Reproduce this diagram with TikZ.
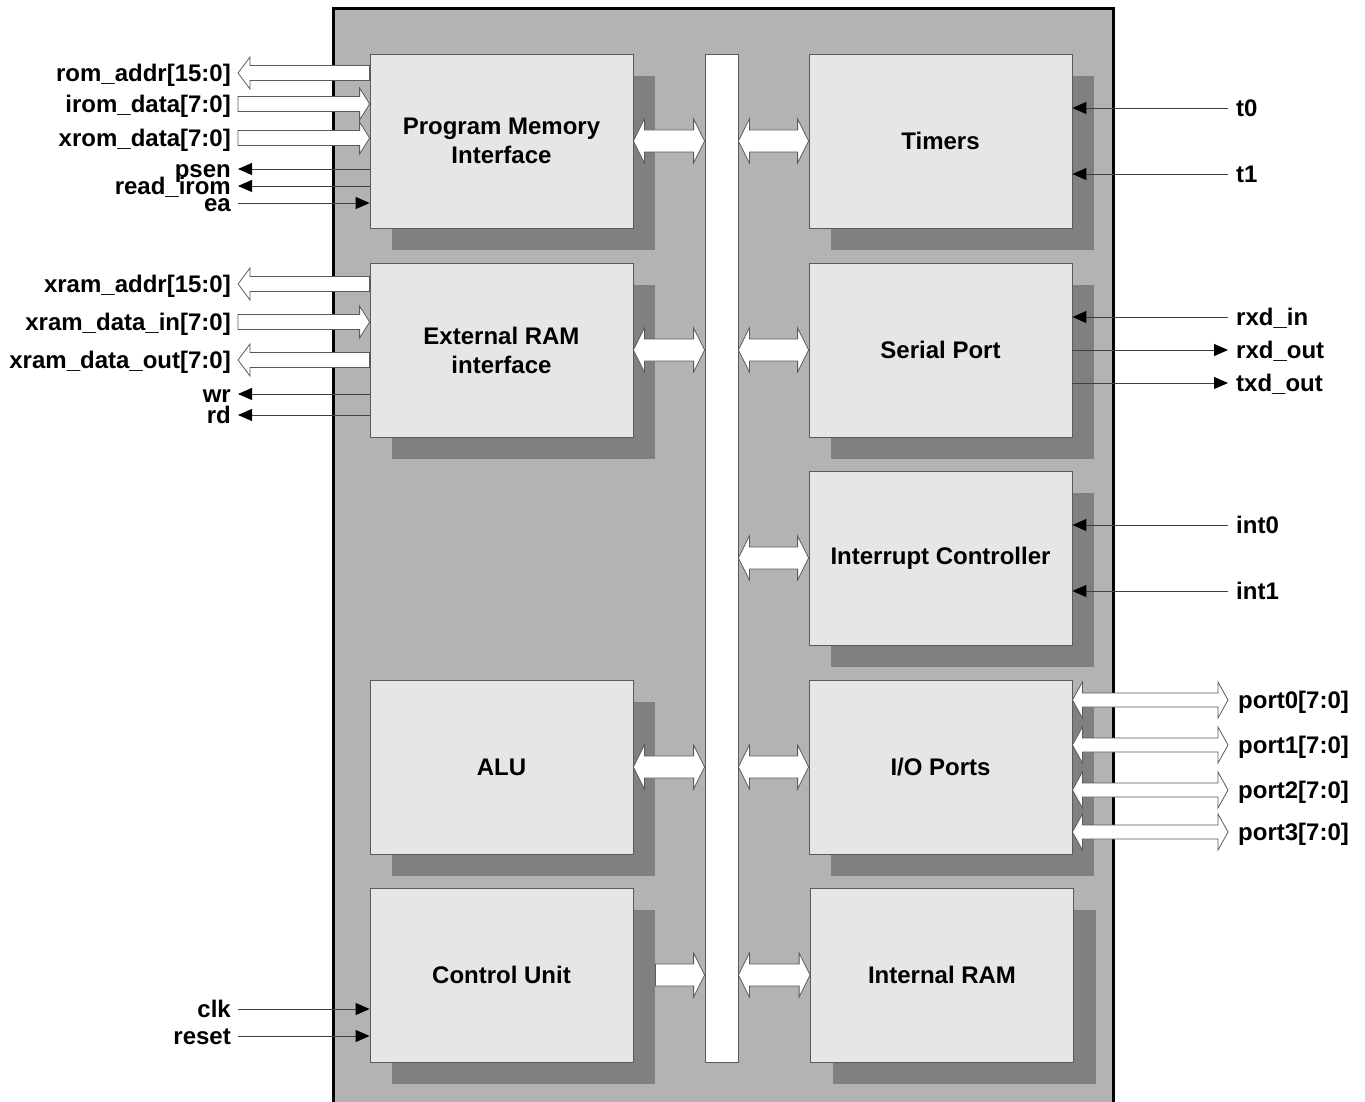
\documentclass[tikz,border=0pt]{standalone}
\usepackage{fontspec}
\setmainfont{Liberation Sans}
\usetikzlibrary{arrows.meta,positioning,calc,shadows}
\definecolor{chip}{HTML}{B3B3B3}
\definecolor{blockfill}{HTML}{E6E6E6}
\definecolor{shade}{HTML}{808080}
\definecolor{edge}{HTML}{5A5A5A}
\definecolor{wirecol}{HTML}{404040}

% wide bus arrows: from, to, shaft half, head half, head length
\newcommand\onebus[5]{%
  \path[busarrow] let \p1=(#1), \p2=(#2), \n1={ifthenelse(\x2>\x1,1,-1)} in
    (\x1,{\y1+#3}) -- ({\x2-(\n1)*#5},{\y1+#3}) -- ({\x2-(\n1)*#5},{\y1+#4}) -- (\x2,\y1)
    -- ({\x2-(\n1)*#5},{\y1-#4}) -- ({\x2-(\n1)*#5},{\y1-#3}) -- (\x1,{\y1-#3}) -- cycle;}
\newcommand\twobus[5]{%
  \path[busarrow] let \p1=(#1), \p2=(#2), \n1={ifthenelse(\x2>\x1,1,-1)} in
    (\x1,\y1) -- ({\x1+(\n1)*#5},{\y1+#4}) -- ({\x1+(\n1)*#5},{\y1+#3})
    -- ({\x2-(\n1)*#5},{\y1+#3}) -- ({\x2-(\n1)*#5},{\y1+#4}) -- (\x2,\y1)
    -- ({\x2-(\n1)*#5},{\y1-#4}) -- ({\x2-(\n1)*#5},{\y1-#3})
    -- ({\x1+(\n1)*#5},{\y1-#3}) -- ({\x1+(\n1)*#5},{\y1-#4}) -- cycle;}

\begin{document}
\begin{tikzpicture}[x=1pt,y=-1pt,font=\fontsize{24}{29}\selectfont\bfseries,
  block/.style={draw=edge,line width=0.8pt,fill=blockfill,minimum width=263pt,minimum height=174pt,
    align=center,inner sep=0pt,general shadow={fill=shade,shadow xshift=22pt,shadow yshift=-22pt}},
  sig/.style={inner sep=0pt,text height=17pt,text depth=0pt},
  sigline/.style={draw=wirecol,line width=0.9pt},
  sigtip/.style={-{Triangle[length=14pt,width=12pt,color=black]}},
  busarrow/.style={fill=white,draw=edge,line width=0.8pt}]
  \useasboundingbox (0,0) rectangle (1365,1102);

  % chip outline
  \fill[chip] (333,9) rectangle (1113,1120);
  \draw[line width=3pt] (333,1120) -- (333,9) -- (1113,9) -- (1113,1120);

  % blocks
  \node[block] (pmi)  at (501.5,141) {Program Memory\\Interface};
  \node[block] (xri)  at (501.5,350) {External RAM\\interface};
  \node[block] (alu)  at (501.5,767) {ALU};
  \node[block] (cu)   at (501.5,975) {Control Unit};
  \node[block] (tmr)  at (940.5,141) {Timers};
  \node[block] (ser)  at (940.5,350) {Serial Port};
  \node[block] (intc) at (940.5,558) {Interrupt Controller};
  \node[block] (iop)  at (940.5,767) {I/O Ports};
  \node[block] (iram) at (942,975) {Internal RAM};
  \node[draw=edge,line width=0.8pt,fill=white,minimum width=33pt,minimum height=1008pt,inner sep=0pt] (bus) at (721.5,558) {};

  % internal bus
  \foreach \blk in {pmi,xri,alu}
    \twobus{\blk.east}{bus.west |- \blk.east}{11}{22}{11};
  \foreach \blk in {tmr,ser,intc,iop,iram}
    \twobus{bus.east |- \blk.west}{\blk.west}{11}{22}{11};
  \onebus{[xshift=22pt]cu.east}{bus.west |- cu.east}{11}{22}{11};

  % pin names
  \foreach \nm/\txt/\yy in {romaddr/{rom\_addr[15:0]}/73, iromdata/{irom\_data[7:0]}/104,
      xromdata/{xrom\_data[7:0]}/138, psen/psen/169, readirom/{read\_irom}/186, ea/ea/203,
      xramaddr/{xram\_addr[15:0]}/284, xramin/{xram\_data\_in[7:0]}/322,
      xramout/{xram\_data\_out[7:0]}/360, wr/wr/394, rd/rd/415, clk/clk/1009, reset/reset/1036}
    \node[sig,anchor=east] (\nm) at (231,\yy) {\txt};
  \foreach \nm/\txt/\yy in {t0/t0/108, t1/t1/174, rxdin/{rxd\_in}/317, rxdout/{rxd\_out}/350,
      txdout/{txd\_out}/383, int0/int0/525, int1/int1/591}
    \node[sig,anchor=west] (\nm) at (1236,\yy) {\txt};
  \foreach \nm/\yy in {port0/700, port1/745, port2/790, port3/832}
    \node[sig,anchor=west] (\nm) at (1238,\yy) {\nm[7:0]};

  % wide pins
  \foreach \nm/\blk in {romaddr/pmi, xramaddr/xri, xramout/xri}
    \onebus{\blk.west |- \nm.east}{[xshift=7pt]\nm.east}{7.5}{16}{12};
  \foreach \nm/\blk in {iromdata/pmi, xromdata/pmi, xramin/xri}
    \onebus{[xshift=7pt]\nm.east}{\blk.west |- \nm.east}{7.5}{16}{10};
  \foreach \nm in {port0,port1,port2,port3}
    \twobus{iop.east |- \nm.west}{[xshift=-10pt]\nm.west}{7}{18}{10};

  % single pins
  \foreach \nm/\blk in {psen/pmi, readirom/pmi, wr/xri, rd/xri}
    \draw[sigline,sigtip] (\blk.west |- \nm.east) -- ([xshift=7pt]\nm.east);
  \foreach \nm/\blk in {ea/pmi, clk/cu, reset/cu}
    \draw[sigline,sigtip] ([xshift=7pt]\nm.east) -- (\blk.west |- \nm.east);
  \foreach \nm/\blk in {t0/tmr, t1/tmr, rxdin/ser, int0/intc, int1/intc}
    \draw[sigline,sigtip] ([xshift=-8pt]\nm.west) -- (\blk.east |- \nm.west);
  \foreach \nm in {rxdout,txdout}
    \draw[sigline,sigtip] (ser.east |- \nm.west) -- ([xshift=-8pt]\nm.west);
\end{tikzpicture}
\end{document}
